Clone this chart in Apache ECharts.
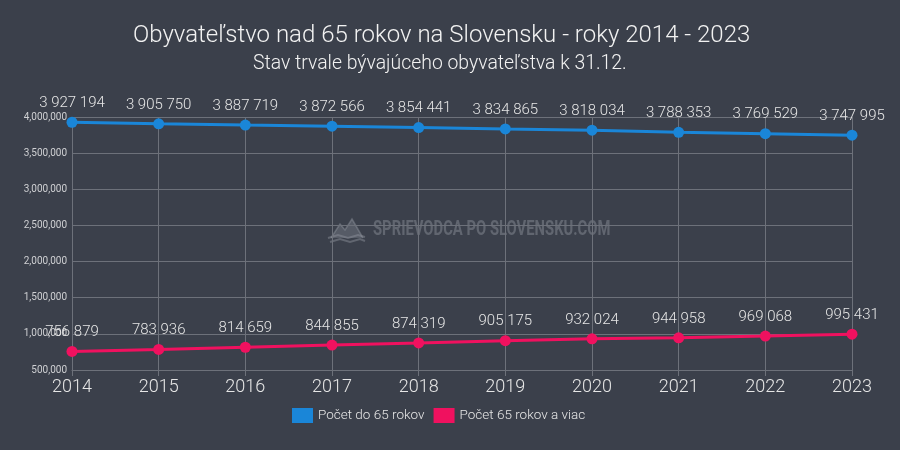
<!DOCTYPE html>
<html><head><meta charset="utf-8">
<script src="https://cdn.jsdelivr.net/npm/echarts@6/dist/echarts.min.js"></script>
<style>html,body{margin:0;padding:0;background:#3b404b}#c{width:900px;height:450px}</style>
</head><body><div id="c"></div>
<script>
var years = ['2014','2015','2016','2017','2018','2019','2020','2021','2022','2023'];
var under65 = [3927194,3905750,3887719,3872566,3854441,3834865,3818034,3788353,3769529,3747995];
var over65 = [756879,783936,814659,844855,874319,905175,932024,944958,969068,995431];
var seriesNames = ['Počet do 65 rokov','Počet 65 rokov a viac'];
var titleText = 'Obyvateľstvo nad 65 rokov na Slovensku - roky 2014 - 2023';
var subtitleText = 'Stav trvale bývajúceho obyvateľstva k 31.12.';

function sp(v){return String(v).replace(/\B(?=(\d{3})+(?!\d))/g,' ');}
function cm(v){return String(v).replace(/\B(?=(\d{3})+(?!\d))/g,',');}

var wm = 'rgba(150,155,165,0.42)';
var chart = echarts.init(document.getElementById('c'));
chart.setOption({
  backgroundColor:'#3b404b',
  textStyle:{fontFamily:'Roboto'},
  title:[
    {text:titleText, left:133, top:24, padding:0,
     textStyle:{color:'#f2f2f2', fontSize:24, fontWeight:300, fontFamily:'Roboto'}},
    {text:subtitleText, left:253, top:55, padding:0,
     textStyle:{color:'#f2f2f2', fontSize:19.4, fontWeight:300, fontFamily:'Roboto'}}
  ],
  legend:{bottom:22, left:287, itemWidth:21, itemHeight:15, itemGap:9, icon:'rect',
    textStyle:{color:'#e6e6e6', fontSize:13.5, fontWeight:300, fontFamily:'Roboto'}},
  grid:{left:72, right:48, top:117, bottom:80},
  xAxis:{type:'category', data:years, boundaryGap:false,
    axisLine:{lineStyle:{color:'#6d717a'}},
    axisTick:{show:true, length:6, lineStyle:{color:'#6d717a'}},
    splitLine:{show:true, lineStyle:{color:'#6d717a'}},
    axisLabel:{color:'#e6e6e6', fontSize:18, fontWeight:300, margin:8}},
  yAxis:{type:'value', min:500000, max:4000000, interval:500000,
    axisLine:{show:false}, axisTick:{show:false},
    splitLine:{lineStyle:{color:'#6d717a'}},
    axisLabel:{color:'#cfd0d3', fontSize:10, margin:5, formatter:function(v){return cm(v);}}},
  graphic:[{type:'text', x:373, y:220, scaleX:0.74, scaleY:1,
    style:{text:'SPRIEVODCA PO SLOVENSKU.COM', fill:wm, fontSize:20, fontFamily:'Roboto', fontWeight:'bold'}},
    {type:'polyline', shape:{points:[[331,238],[340,224],[345,230],[352,219],[363,238]]}, style:{stroke:wm, fill:'rgba(150,155,165,0.3)', lineWidth:1.5}},
    {type:'polyline', shape:{points:[[328,238],[338,235],[348,238],[358,235],[365,237]]}, style:{stroke:wm, fill:null, lineWidth:2}},
    {type:'polyline', shape:{points:[[330,242],[340,239],[350,242],[360,239],[365,241]]}, style:{stroke:wm, fill:null, lineWidth:2}}
  ],
  series:[
    {name:seriesNames[0], type:'line', data:under65, color:'#1a86d8', symbol:'circle', symbolSize:11,
     lineStyle:{width:3}, label:{show:true, position:'top', distance:6, color:'#e6e6e6', fontSize:15, fontWeight:300, formatter:function(p){return sp(p.value);}}},
    {name:seriesNames[1], type:'line', data:over65, color:'#f0115f', symbol:'circle', symbolSize:11,
     lineStyle:{width:3}, label:{show:true, position:'top', distance:6, color:'#e6e6e6', fontSize:15, fontWeight:300, formatter:function(p){return sp(p.value);}}}
  ]
});
</script></body></html>
